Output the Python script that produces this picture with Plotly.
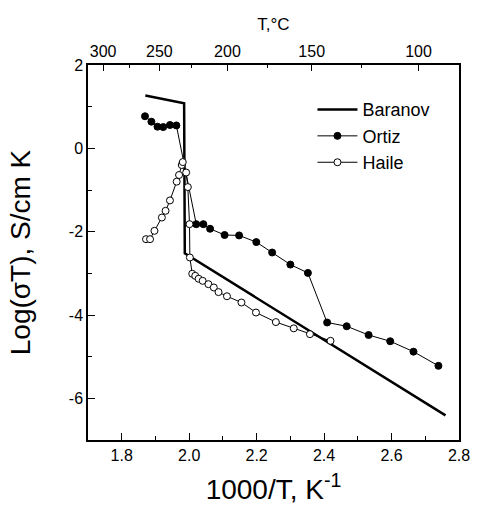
import plotly.graph_objects as go

# ---- data ----
baranov_x = [1.870, 1.985, 1.987, 2.760]
baranov_y = [1.27, 1.08, -2.52, -6.41]

ortiz_x = [1.869, 1.888, 1.906, 1.923, 1.943, 1.962, 2.021, 2.042, 2.062, 2.105,
           2.148, 2.199, 2.246, 2.300, 2.352, 2.409, 2.467, 2.532, 2.596, 2.665, 2.739]
ortiz_y = [0.77, 0.64, 0.52, 0.51, 0.56, 0.55, -1.82, -1.82, -1.93, -2.08,
           -2.09, -2.25, -2.50, -2.79, -2.99, -4.18, -4.27, -4.48, -4.63, -4.88, -5.22]

haile_x = [1.872, 1.884, 1.897, 1.919, 1.930, 1.943, 1.963, 1.970, 1.978, 1.981,
           1.991, 1.996, 2.001, 2.002, 2.009, 2.018, 2.028, 2.040, 2.057, 2.073,
           2.087, 2.112, 2.155, 2.198, 2.257, 2.310, 2.358, 2.419]
haile_y = [-2.18, -2.18, -1.98, -1.66, -1.50, -1.25, -0.80, -0.64, -0.40, -0.33,
           -0.58, -0.93, -1.82, -2.62, -3.01, -3.06, -3.13, -3.18, -3.26, -3.34,
           -3.45, -3.55, -3.70, -3.94, -4.17, -4.32, -4.46, -4.62]

top_major_c = [300, 250, 200, 150, 100]
top_minor_c = [275, 225, 175, 125]

x_range = [1.7, 2.8]
y_range = [-7, 2]

FONT = "Liberation Sans, Arial, sans-serif"

def inv_t(c):
    return 1000.0 / (c + 273.15)

fig = go.Figure()
fig.add_trace(go.Scatter(x=baranov_x, y=baranov_y, mode="lines", name="Baranov",
                         line=dict(color="black", width=2.5)))
fig.add_trace(go.Scatter(x=ortiz_x, y=ortiz_y, mode="lines+markers", name="Ortiz",
                         line=dict(color="black", width=1),
                         marker=dict(symbol="circle", size=7, color="black",
                                     line=dict(color="black", width=1))))
fig.add_trace(go.Scatter(x=haile_x, y=haile_y, mode="lines+markers", name="Haile",
                         line=dict(color="black", width=1),
                         marker=dict(symbol="circle", size=7, color="white",
                                     line=dict(color="black", width=1))))
# invisible trace to activate the top axis
fig.add_trace(go.Scatter(x=[x_range[0]], y=[y_range[0]], xaxis="x2", mode="markers",
                         marker=dict(opacity=0), showlegend=False, hoverinfo="skip"))

fig.update_layout(
    width=482, height=512,
    margin=dict(l=88, r=16, t=65, b=72),
    paper_bgcolor="white", plot_bgcolor="white",
    font=dict(family=FONT, color="black", size=16),
    showlegend=True,
    legend=dict(x=0.605, y=0.93, xanchor="left", yanchor="top",
                bgcolor="rgba(0,0,0,0)", font=dict(size=18, family=FONT),
                itemwidth=40, tracegroupgap=0),
    xaxis=dict(range=x_range, tickmode="array",
               tickvals=[1.8, 2.0, 2.2, 2.4, 2.6, 2.8],
               ticktext=["1.8", "2.0", "2.2", "2.4", "2.6", "2.8"],
               ticks="inside", ticklen=7, tickwidth=1, tickcolor="black",
               minor=dict(tickvals=[1.9, 2.1, 2.3, 2.5, 2.7], ticks="inside",
                          ticklen=4, tickcolor="black"),
               showline=True, linecolor="black", linewidth=1.5, mirror=False,
               showgrid=False, zeroline=False,
               tickfont=dict(size=16),
               title=dict(text="1000/T, K<sup>-1</sup>", font=dict(size=28), standoff=16)),
    xaxis2=dict(overlaying="x", side="top", range=x_range, tickmode="array",
                tickvals=[inv_t(c) for c in top_major_c],
                ticktext=[str(c) for c in top_major_c],
                ticks="inside", ticklen=6, tickwidth=1, tickcolor="black",
                minor=dict(tickvals=[inv_t(c) for c in top_minor_c], ticks="inside",
                           ticklen=3, tickcolor="black"),
                showline=True, linecolor="black", linewidth=1.5,
                showgrid=False, zeroline=False,
                tickfont=dict(size=16),
                title=dict(text="T,°C", font=dict(size=17), standoff=8)),
    yaxis=dict(range=y_range, tickmode="array",
               tickvals=[2, 0, -2, -4, -6], ticktext=["2", "0", "-2", "-4", "-6"],
               ticks="inside", ticklen=7, tickwidth=1, tickcolor="black",
               minor=dict(tickvals=[1, -1, -3, -5, -7], ticks="inside",
                          ticklen=4, tickcolor="black"),
               showline=True, linecolor="black", linewidth=1.5, mirror=True,
               showgrid=False, zeroline=False,
               tickfont=dict(size=16),
               title=dict(text="Log(σT), S/cm K", font=dict(size=28), standoff=30)),
)

fig.write_html("out.html")
